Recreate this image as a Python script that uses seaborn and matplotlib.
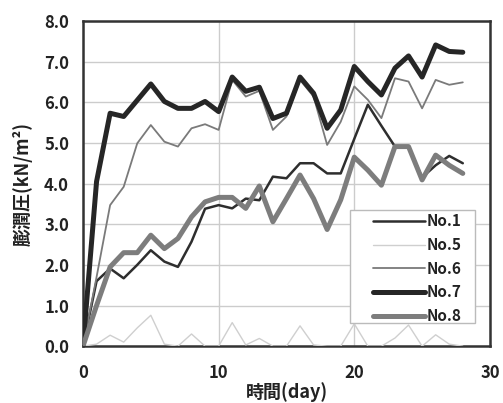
import matplotlib
matplotlib.use("Agg")
import matplotlib.pyplot as plt
from matplotlib.patches import Rectangle
import seaborn as sns
import pandas as pd

days = list(range(0, 29))
no1 = [0, 1.6, 1.91, 1.67, 2.0, 2.36, 2.08, 1.95, 2.57, 3.38, 3.47, 3.39, 3.63, 3.59, 4.17,
       4.13, 4.5, 4.5, 4.25, 4.25, 5.1, 5.94, 5.42, 4.91, 4.91, 4.15, 4.45, 4.68, 4.5]
no5 = [0, 0.05, 0.27, 0.1, 0.45, 0.76, 0.05, 0, 0.3, 0, 0, 0.58, 0.03, 0.19, 0,
       0, 0.5, 0.03, 0, 0, 0.55, 0, 0, 0.2, 0.52, 0, 0.28, 0.05, 0]
no6 = [0, 1.7, 3.47, 3.92, 4.99, 5.44, 5.03, 4.91, 5.36, 5.46, 5.32, 6.55, 6.14, 6.28, 5.32,
       5.65, 6.55, 6.14, 4.95, 5.52, 6.39, 6.06, 5.61, 6.59, 6.51, 5.85, 6.55, 6.43, 6.49]
no7 = [0, 4.05, 5.73, 5.65, 6.05, 6.45, 6.02, 5.85, 5.85, 6.02, 5.77, 6.62, 6.27, 6.37, 5.6,
       5.73, 6.62, 6.22, 5.36, 5.81, 6.88, 6.51, 6.18, 6.84, 7.14, 6.62, 7.41, 7.25, 7.23]
no8 = [0, 1.0, 1.95, 2.3, 2.3, 2.73, 2.4, 2.65, 3.18, 3.55, 3.66, 3.66, 3.39, 3.94, 3.06,
       3.63, 4.21, 3.63, 2.87, 3.6, 4.65, 4.33, 3.96, 4.91, 4.91, 4.09, 4.70, 4.45, 4.25]

series_names = ["No.1", "No.5", "No.6", "No.7", "No.8"]
series_values = [no1, no5, no6, no7, no8]
x_ticks = [0, 10, 20, 30]
y_ticks = [0, 1, 2, 3, 4, 5, 6, 7, 8]
x_label = "時間(day)"
y_label = "膨潤圧(kN/m²)"

styles = {
    "No.1": dict(color="#2e2e2e", lw=1.8),
    "No.5": dict(color="#cfcfcf", lw=1.0),
    "No.6": dict(color="#7a7a7a", lw=1.3),
    "No.7": dict(color="#262626", lw=3.6),
    "No.8": dict(color="#7d7d7d", lw=3.6),
}

sns.set_style("white")
plt.rcParams["font.family"] = ["Noto Sans CJK JP", "DejaVu Sans"]

fig = plt.figure(figsize=(5.03, 4.03), dpi=100)
ax = fig.add_axes([0.165, 0.141, 0.809, 0.807])

for name, vals in zip(series_names, series_values):
    df = pd.DataFrame({"day": days, "p": vals})
    st = styles[name]
    sns.lineplot(data=df, x="day", y="p", ax=ax, color=st["color"],
                 linewidth=st["lw"], label=name, zorder=3)

ax.set_xlim(0, 30)
ax.set_ylim(0, 8)
ax.set_xticks(x_ticks)
ax.set_yticks(y_ticks)
ax.set_yticklabels([f"{v:.1f}" for v in y_ticks])
ax.set_xticklabels([str(v) for v in x_ticks])
ax.grid(True, color="#cccccc", linewidth=1.0, zorder=0)
ax.set_axisbelow(True)
for sp in ax.spines.values():
    sp.set_color("#333333")
    sp.set_linewidth(1.8)
ax.tick_params(axis="both", length=0, labelsize=12, colors="#222222")
ax.tick_params(axis="y", pad=10)
ax.tick_params(axis="x", pad=13)
for lab in ax.get_xticklabels() + ax.get_yticklabels():
    lab.set_fontweight("bold")

ax.set_xlabel(x_label, fontsize=13, fontweight="bold", color="#222222", labelpad=0)
ax.set_ylabel(y_label, fontsize=13, fontweight="bold", color="#222222", labelpad=8)

# legend frame drawn as a box, legend content placed inside it
box = Rectangle((0.656, 0.071), 0.307, 0.347, transform=ax.transAxes,
                facecolor="white", edgecolor="#bbbbbb", linewidth=1.0, zorder=4)
ax.add_patch(box)
leg = ax.legend(loc="center right", bbox_to_anchor=(0.93, 0.238),
                frameon=False, handlelength=3.4, handletextpad=0.1,
                labelspacing=0.5, borderpad=0, borderaxespad=0,
                prop=dict(size=11, weight="bold"))
for t in leg.get_texts():
    t.set_color("#222222")
leg.set_zorder(5)

fig.savefig("out.png", dpi=100, facecolor="white")
